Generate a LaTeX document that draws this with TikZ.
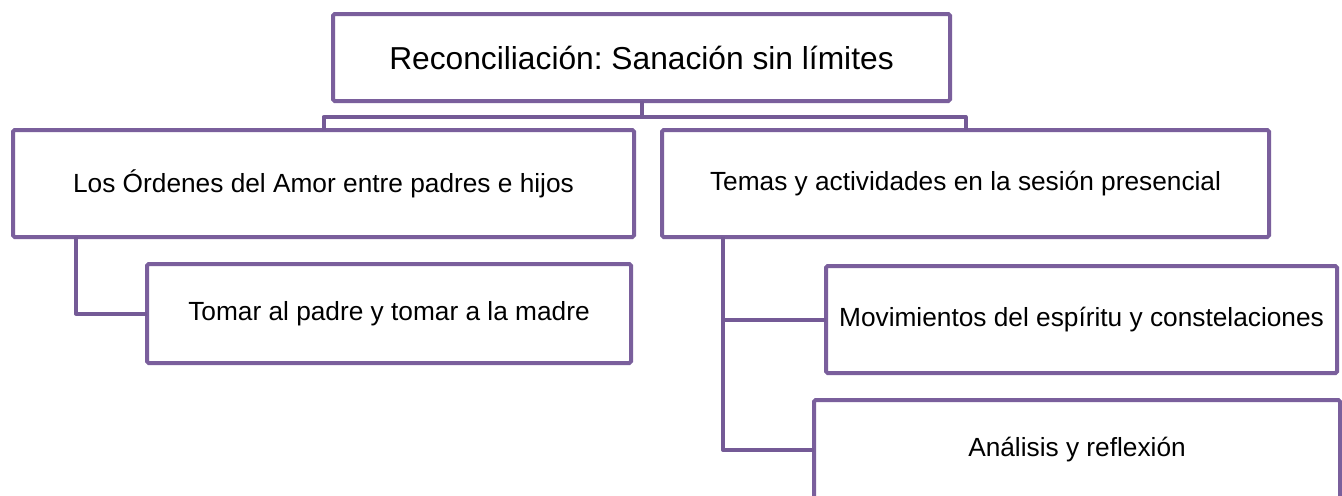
\documentclass[tikz,border=0pt]{standalone}
\usepackage{fontspec}
\setmainfont{Liberation Sans}
\frenchspacing
\definecolor{boxpurple}{RGB}{122,95,156}
\definecolor{linepurple}{RGB}{116,90,150}
\tikzset{
  box/.style={draw=boxpurple, line width=3pt, fill=white, rectangle, rounded corners=1.2pt,
    inner sep=0pt, outer sep=0pt, align=center, font=\fontsize{19.7pt}{23pt}\selectfont},
  titlebox/.style={box, font=\fontsize{23.8pt}{28pt}\selectfont},
  link/.style={draw=linepurple, line width=3pt, line join=round}
}
\begin{document}
\begin{tikzpicture}[x=0.75pt, y=-0.75pt]
\path[use as bounding box, clip] (0,0) rectangle (1342,496);
\fill[white] (0,0) rectangle (1342,496);
\node[titlebox, minimum width=462.75pt, minimum height=65.25pt] (title) at (641.5,57.5) {Reconciliación: Sanación sin límites};
\node[box, minimum width=465.75pt, minimum height=80.25pt] (lc) at (323.5,183.5) {Los Órdenes del Amor entre padres e hijos};
\node[box, minimum width=455.25pt, minimum height=80.25pt] (rc) at (965.5,183.5) {Temas y actividades en la sesión presencial};
\node[box, minimum width=363pt, minimum height=74.25pt] (tomar) at (389,313.5) {Tomar al padre y tomar a la madre};
\node[box, minimum width=383.25pt, minimum height=80.25pt] (mov) at (1081.5,319.5) {Movimientos del espíritu y constelaciones};
\node[box, minimum width=394.5pt, minimum height=75pt] (ana) at (1077,450) {Análisis y reflexión};
\coordinate (bus) at ([yshift=-12pt]title.south);
\draw[link] (title.south) -- (bus);
\draw[link] (lc.north) |- (bus) -| (rc.north);
\draw[link] ([xshift=47.25pt]lc.south west) |- (tomar.west);
\draw[link] ([xshift=45.75pt]rc.south west) |- (mov.west);
\draw[link] ([xshift=45.75pt]rc.south west) |- (ana.west);
\end{tikzpicture}
\end{document}
